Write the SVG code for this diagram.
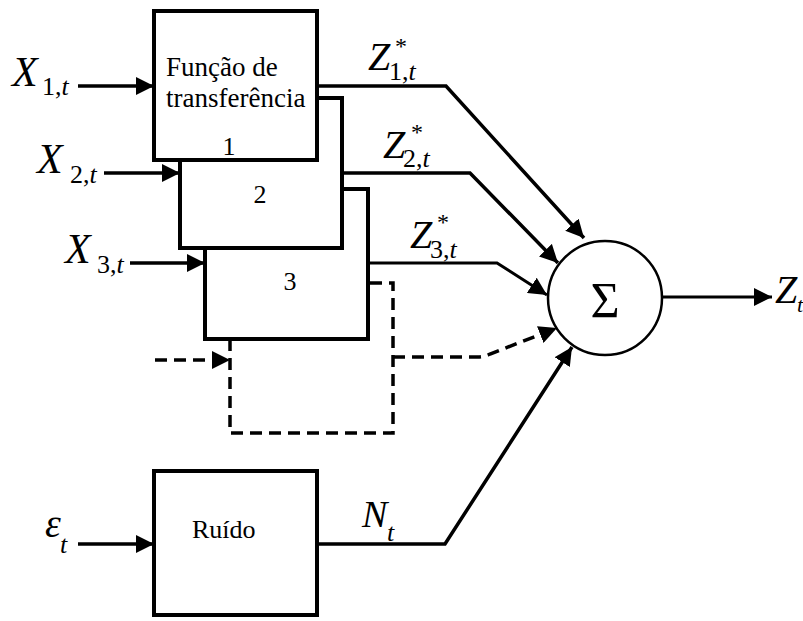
<svg xmlns="http://www.w3.org/2000/svg" width="803" height="621" viewBox="0 0 803 621">
<style>
.box{fill:#fff;stroke:#000;stroke-width:4}
.ln{fill:none;stroke:#000;stroke-width:3.5}
.thin{fill:none;stroke:#000;stroke-width:3}
.dash{fill:none;stroke:#000;stroke-width:3.5;stroke-dasharray:12 7}
text{font-family:'Liberation Serif','Times New Roman',serif;fill:#000}
.m{font-style:italic}
</style>
<defs>
<marker id="ah" viewBox="0 0 18 18" refX="18" refY="9" markerWidth="18" markerHeight="18" markerUnits="userSpaceOnUse" orient="auto">
<path d="M0,0 L18,9 L0,18 z" fill="#000"/>
</marker>
</defs>
<rect width="803" height="621" fill="#fff"/>

<g id="box3">
<rect class="box" x="205" y="189" width="163" height="150"/>
<text x="290" y="290" font-size="26" text-anchor="middle">3</text>
</g>
<g id="box2">
<rect class="box" x="180" y="98" width="162" height="150"/>
<text x="260" y="203" font-size="26" text-anchor="middle">2</text>
</g>
<g id="box1">
<rect class="box" x="154" y="11" width="163" height="149"/>
<text x="166" y="76" font-size="27">Função de</text>
<text x="166" y="107" font-size="27">transferência</text>
<text x="229" y="155" font-size="26" text-anchor="middle">1</text>
</g>
<g id="noise">
<rect class="box" x="154" y="471" width="163" height="144"/>
<text x="192" y="538" font-size="26">Ruído</text>
</g>
<g id="sum">
<circle cx="605" cy="298" r="57" fill="#fff" stroke="#000" stroke-width="2.5"/>
<text x="605" y="317" font-size="50" text-anchor="middle">Σ</text>
</g>

<g id="connectors">
<line class="ln" x1="78" y1="86" x2="154" y2="86" marker-end="url(#ah)"/>
<line class="ln" x1="104" y1="173" x2="180" y2="173" marker-end="url(#ah)"/>
<line class="ln" x1="130" y1="263" x2="205" y2="263" marker-end="url(#ah)"/>
<line class="ln" x1="78" y1="544" x2="154" y2="544" marker-end="url(#ah)"/>
<path class="ln" d="M317,86 L446,86 L584,238" marker-end="url(#ah)"/>
<path class="ln" d="M342,173 L470,173 L558,263" marker-end="url(#ah)"/>
<path class="thin" d="M368,263 L497,263 L547,295" marker-end="url(#ah)"/>
<path class="ln" d="M317,544 L445,544 L572,347" marker-end="url(#ah)"/>
<line class="thin" x1="662" y1="297" x2="772" y2="297" marker-end="url(#ah)"/>
<path class="dash" d="M370,283 L393,283 L393,433 L230,433 L230,339"/>
<line class="dash" x1="155" y1="360" x2="230" y2="360" marker-end="url(#ah)"/>
<path class="dash" stroke-width="3" d="M393,357 L478,357 Q484,357 490,354 L557,328" marker-end="url(#ah)"/>
</g>

<g id="labels">
<text class="m" x="12" y="86" font-size="42">X</text>
<text x="42" y="95" font-size="26">1,<tspan class="m">t</tspan></text>
<text class="m" x="37" y="173" font-size="42">X</text>
<text x="70" y="183" font-size="26">2,<tspan class="m">t</tspan></text>
<text class="m" x="65" y="263" font-size="42">X</text>
<text x="97" y="273" font-size="26">3,<tspan class="m">t</tspan></text>
<text class="m" x="45" y="537" font-size="40">ε</text>
<text class="m" x="60" y="553" font-size="26">t</text>

<text class="m" x="368" y="70" font-size="40">Z</text>
<text x="401" y="54" font-size="24" text-anchor="middle">*</text>
<text x="389" y="80" font-size="26">1,<tspan class="m">t</tspan></text>
<text class="m" x="383" y="158" font-size="40">Z</text>
<text x="417" y="140" font-size="24" text-anchor="middle">*</text>
<text x="403" y="167" font-size="26">2,<tspan class="m">t</tspan></text>
<text class="m" x="410" y="248" font-size="40">Z</text>
<text x="443" y="230" font-size="24" text-anchor="middle">*</text>
<text x="430" y="258" font-size="26">3,<tspan class="m">t</tspan></text>

<text class="m" x="362" y="527" font-size="38">N</text>
<text class="m" x="387" y="541" font-size="26">t</text>
<text class="m" x="775" y="303" font-size="40">Z</text>
<text class="m" x="797" y="312" font-size="22">t</text>
</g>
</svg>
